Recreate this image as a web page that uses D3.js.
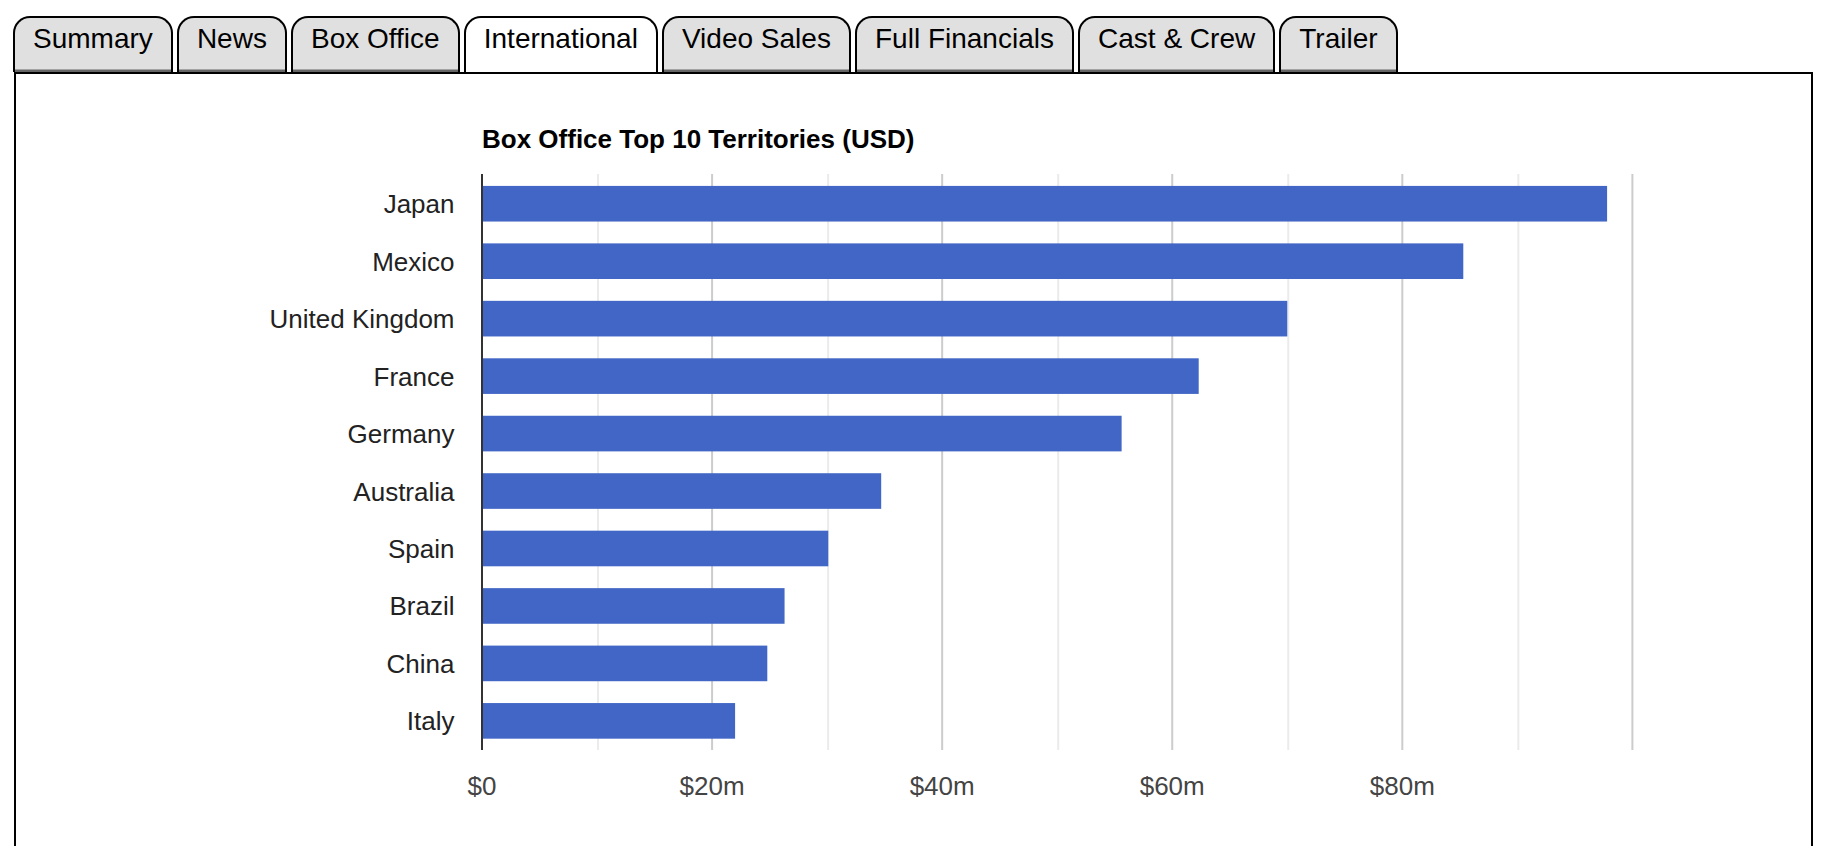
<!DOCTYPE html>
<html><head><meta charset="utf-8">
<script src="https://cdn.jsdelivr.net/npm/d3@7"></script>
<style>
html,body{margin:0;padding:0;background:#fff;overflow:hidden}
body{width:1848px;height:846px;position:relative;font-family:"Liberation Sans",Arial,sans-serif}
#tabs{position:absolute;left:13px;top:16px;display:flex;gap:4.1px;height:56px;z-index:1}
.tab{box-sizing:border-box;height:56px;border:2px solid #000;border-bottom:0;border-radius:17px 17px 0 0;background:#e0e0e0;padding:5px 18px 0;font-size:28px;line-height:32px;color:#000;white-space:nowrap;box-shadow:inset 0 -2.5px 0 #666}
.tab.active{background:#fff;box-shadow:none}
#panel{position:absolute;left:13.5px;top:72px;width:1799px;height:800px;box-sizing:border-box;border:2px solid #000;background:#fff}
svg{position:absolute;left:0;top:0;z-index:2}
</style></head><body>
<div id="panel"></div>
<div id="tabs"></div>
<svg id="chart" width="1848" height="846"></svg>
<script>
const tabNames=["Summary","News","Box Office","International","Video Sales","Full Financials","Cast & Crew","Trailer"];
const activeTab="International";
const territories=["Japan","Mexico","United Kingdom","France","Germany","Australia","Spain","Brazil","China","Italy"];
const grosses=[97.8,85.3,70.0,62.3,55.6,34.7,30.1,26.3,24.8,22.0];
const majorTicks=[0,20,40,60,80];
const gridValues=[10,20,30,40,50,60,70,80,90,100];
const chartTitle="Box Office Top 10 Territories (USD)";

d3.select("#tabs").selectAll("div").data(tabNames).join("div")
  .attr("class",d=>"tab"+(d===activeTab?" active":"")).text(d=>d);

const svg=d3.select("#chart");
const x=d3.scaleLinear().domain([0,100]).range([482,1632.4]);
const y=d3.scaleBand().domain(territories).range([175,749.6]).paddingInner(0.38).paddingOuter(0.19);

svg.append("g").selectAll("line").data(gridValues).join("line")
  .attr("x1",d=>x(d)+(d%20===0?0:1)).attr("x2",d=>x(d)+(d%20===0?0:1)).attr("y1",174).attr("y2",750)
  .attr("stroke",d=>d%20===0?"#cccccc":"#ebebeb").attr("stroke-width",2);

svg.append("g").selectAll("rect").data(territories).join("rect")
  .attr("x",x(0)).attr("y",d=>y(d)).attr("height",y.bandwidth())
  .attr("width",(d,i)=>x(grosses[i])-x(0)).attr("fill","#4166c5");

svg.append("line").attr("x1",x(0)).attr("x2",x(0)).attr("y1",174).attr("y2",750)
  .attr("stroke","#333").attr("stroke-width",2);

svg.append("g").selectAll("text").data(territories).join("text")
  .attr("x",x(0)-27.5).attr("y",d=>y(d)+y.bandwidth()/2+9.5)
  .attr("text-anchor","end").attr("font-size",26).attr("fill","#222").text(d=>d);

svg.append("g").selectAll("text").data(majorTicks).join("text")
  .attr("x",d=>x(d)).attr("y",795).attr("text-anchor","middle")
  .attr("font-size",26).attr("fill","#444").text(d=>d===0?"$0":`$${d}m`);

svg.append("text").attr("x",x(0)).attr("y",148).attr("font-size",26)
  .attr("font-weight","bold").attr("fill","#000").text(chartTitle);
</script>
</body></html>
